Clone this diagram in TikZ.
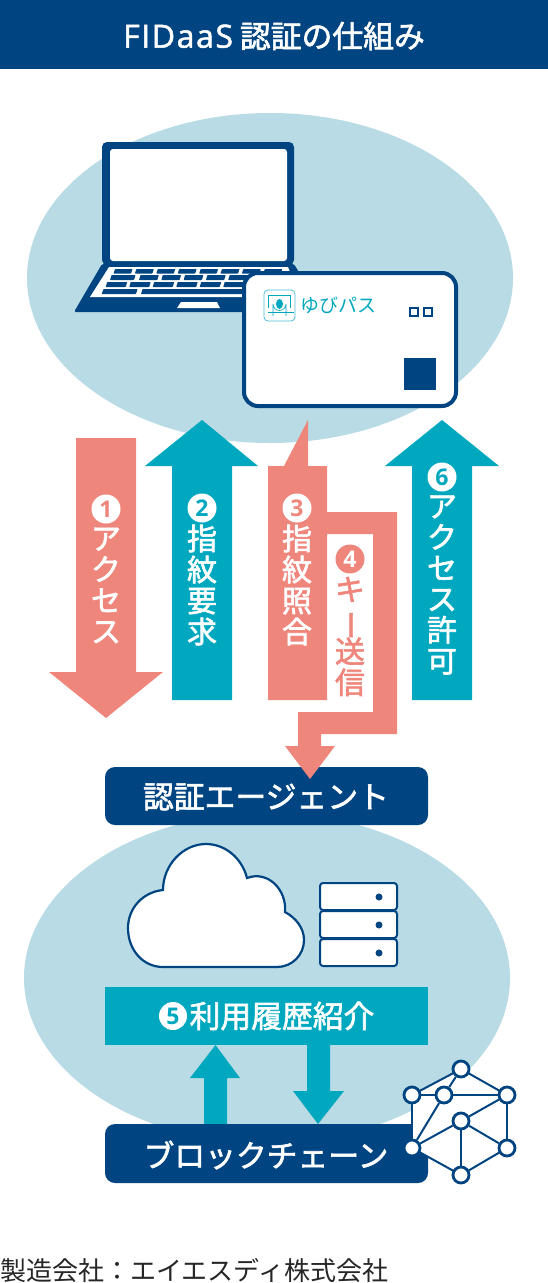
\documentclass[tikz,border=0pt]{standalone}
\usepackage{fontspec}
\setmainfont{Noto Sans CJK JP}
\newfontfamily\labelfont[FakeBold=2]{Noto Sans CJK JP}
\newfontfamily\latinfont[FakeBold=1.5, LetterSpace=5]{Open Sans}
\newfontfamily\numfont{Open Sans}
\lineskiplimit=-40pt

\definecolor{navy}{HTML}{004481}
\definecolor{tealc}{HTML}{00A8BF}
\definecolor{salmon}{HTML}{EF867C}
\definecolor{pale}{HTML}{B8DBE5}

\tikzset{
    vlabel/.style={text=white, inner sep=0pt, align=center,
        font=\labelfont\fontsize{30}{31}\selectfont},
    hlabel/.style={text=white, inner sep=0pt,
        font=\labelfont\fontsize{30.8}{36}\selectfont},
    numdot/.style={circle, fill=white, inner sep=0pt, minimum size=29pt,
        font=\numfont\bfseries\fontsize{23}{23}\selectfont},
    barbox/.style={fill=navy, rounded corners=10pt},
    netnode/.style={circle, draw=navy, fill=white, line width=2.8pt,
        inner sep=0pt, minimum size=16pt},
    netline/.style={draw=navy, line width=2pt},
    servbox/.style={draw=navy, fill=white, line width=2pt, rounded corners=3pt},
    keyc/.style={fill=navy, rounded corners=0.6pt}
}

\begin{document}
\begin{tikzpicture}[x=1pt, y=-1pt]
    \useasboundingbox (0,0) rectangle (548,1283);

    % header
    \fill[navy] (0,0) rectangle (548,69);
    \node[hlabel] (title) at (274,36) {{\latinfont\fontsize{32}{36}\selectfont FIDaaS} 認証の仕組み};

    % upper group
    \fill[pale] (270,278) ellipse [x radius=243, y radius=165];

    % laptop
    \fill[navy, rounded corners=5pt] (102,265) -- (102,142) -- (294,142) -- (294,265) -- cycle;
    \fill[white, rounded corners=3pt] (110,149) rectangle (287,261);
    \fill[navy, rounded corners=1.5pt] (102,264) -- (294,264) -- (300,274) -- (300,312) -- (74,312) -- cycle;
    \fill[white] (109,267) -- (288,267) -- (300,297) -- (90,297) -- cycle;
    \foreach \ya/\yb/\xa/\kw/\kp/\kn in {269/273.5/113.5/17.5/21.4/8, 275/280/139/18.3/22.3/5, 282/287/105.7/20/23.5/6}
        \foreach \i in {1,...,\kn}
            \fill[keyc] ({\xa+(\i-1)*\kp+1.5},\ya) -- ++(\kw,0) -- ({\xa+(\i-1)*\kp+\kw},\yb) -- ({\xa+(\i-1)*\kp},\yb) -- cycle;
    \fill[keyc] (111.5,275) -- (135.5,275) -- (134,280) -- (110,280) -- cycle;
    \fill[keyc] (103.5,289) -- (137.5,289) -- (136,294) -- (101.7,294) -- cycle;
    \fill[keyc] (142.5,289) -- (250,289) -- (250,294) -- (141,294) -- cycle;
    \fill[white] (181,302) -- (217,302) -- (220,308) -- (177,308) -- cycle;

    % card
    \draw[navy, fill=white, line width=4pt, rounded corners=14pt] (244,273) rectangle (456,406);
    \draw[navy, line width=2pt] (410,308) rectangle (418,316);
    \draw[navy, line width=2pt] (424,308) rectangle (432,316);
    \fill[navy] (404,358) rectangle (436,390);
    \draw[tealc!70, line width=0.8pt, rounded corners=4pt] (264,290) rectangle (295,321);
    \draw[tealc, line width=0.6pt] (268,308) -- (268,295) -- (290,295) -- (290,308);
    \draw[tealc, line width=0.6pt] (273,316) -- (273,304) arc[start angle=180, end angle=0, radius=6.5] -- (286,316);
    \draw[tealc, line width=0.6pt] (268,312) -- (294,312);
    \fill[tealc] (279.5,304) ellipse [x radius=3.5, y radius=5];
    \node[inner sep=0pt, text=tealc, font=\fontsize{19}{24}\selectfont] (logotext) at (338.5,305) {ゆびパス};

    % lower group
    \fill[pale] (267,978) ellipse [x radius=243, y radius=165];

    % cloud
    \draw[navy, fill=white, line width=2.2pt] (163,967)
        .. controls (143,967) and (128,950) .. (128,928)
        .. controls (128,908) and (143,892) .. (163,890)
        .. controls (163,865) and (183,844) .. (206,844)
        .. controls (225,844) and (242,858) .. (247,878)
        .. controls (268,870) and (287,890) .. (285,912)
        .. controls (296,918) and (304,928) .. (304,940)
        .. controls (304,955) and (292,967) .. (277,967) -- cycle;

    % server
    \foreach \yy in {883,911,939} {
        \draw[servbox] (320,\yy) rectangle (397,\yy+27);
        \fill[navy] (379,\yy+14) circle (3.5);
    }

    % arrows 1, 2, 6
    \fill[salmon] (76,438) -- (136,438) -- (136,672) -- (163,672) -- (106,718) -- (49,672) -- (76,672) -- cycle;
    \fill[tealc] (172,700) -- (232,700) -- (232,466) -- (258,466) -- (202,420) -- (145,466) -- (172,466) -- cycle;
    \fill[tealc] (412,700) -- (472,700) -- (472,466) -- (499,466) -- (442,420) -- (385,466) -- (412,466) -- cycle;

    % agent box
    \fill[barbox] (105,767) rectangle (428,825);
    \node[hlabel] (agent) at (266,797) {認証エージェント};

    % arrows 3, 4
    \fill[salmon] (268,700) -- (268,466) -- (284,466) -- (308,420) -- (308,466) -- (327,466) -- (327,512)
        -- (397,512) -- (397,734) -- (321,734) -- (321,746) -- (335,746) -- (310,779) -- (285,746) -- (298,746)
        -- (298,712) -- (373,712) -- (373,534) -- (327,534) -- (327,700) -- cycle;

    % arrow labels
    \node[numdot, text=salmon] (numone) at (106,509) {1};
    \node[vlabel] (access) at (106,585.5) {ア\\ク\\セ\\ス};
    \node[numdot, text=tealc] (numtwo) at (202,508) {2};
    \node[vlabel] (request) at (202,585) {指\\紋\\要\\求};
    \node[numdot, text=salmon] (numthree) at (297,508) {3};
    \node[vlabel] (verify) at (297,585) {指\\紋\\照\\合};
    \node[numdot, text=white, fill=salmon] (numfour) at (350,559) {4};
    \node[vlabel, text=salmon] (keysend) at (350,636.5) {キ\\\kern-8pt\rotatebox[origin=c]{-90}{ー}\\送\\信};
    \node[numdot, text=tealc] (numsix) at (442,477) {6};
    \node[vlabel] (allow) at (442,585) {ア\\ク\\セ\\ス\\許\\可};

    % history bar
    \fill[tealc] (105,987) rectangle (428,1045);
    \node[numdot, text=tealc, minimum size=28pt] (numfive) at (173,1016) {5};
    \node[hlabel] (history) at (282,1016) {利用履歴紹介};

    \fill[tealc] (204,1125) -- (227,1125) -- (227,1078) -- (240,1078) -- (215.5,1045) -- (190,1078) -- (204,1078) -- cycle;
    \fill[tealc] (307,1045) -- (330,1045) -- (330,1091) -- (344,1091) -- (318,1124) -- (293,1091) -- (307,1091) -- cycle;

    % chain box
    \fill[barbox] (105,1124) rectangle (428,1183);
    \node[hlabel] (chain) at (266,1155) {ブロックチェーン};

    % network
    \coordinate (na) at (461,1069);
    \coordinate (nb) at (412,1095);
    \coordinate (nd) at (507,1095);
    \coordinate (nf) at (412,1148);
    \coordinate (ng) at (507,1148);
    \coordinate (nh) at (461,1175);
    \fill[white] (na) -- (nd) -- (ng) -- (nh) -- (nf) -- (nb) -- cycle;
    \foreach \from/\to in {na/nb, na/nd, nb/nf, nd/ng, nf/nh, ng/nh}
        \draw[netline] (\from) -- (\to);
    \node[netnode] (neta) at (na) {};
    \node[netnode] (netb) at (nb) {};
    \node[netnode] (netc) at (444,1095) {};
    \node[netnode] (netd) at (nd) {};
    \node[netnode] (nete) at (461,1121) {};
    \node[netnode] (netf) at (nf) {};
    \node[netnode] (netg) at (ng) {};
    \node[netnode] (neth) at (nh) {};
    \foreach \from/\to in {neta/netc, netb/netc, netc/netd, netc/netf,
        netd/nete, nete/netf, nete/netg, nete/neth}
        \draw[netline] (\from) -- (\to);

    % footer
    \node[anchor=west, inner sep=0pt, text=black!85, font=\fontsize{26}{30}\selectfont] (maker) at (0,1270) {製造会社：エイエスディ株式会社};
\end{tikzpicture}
\end{document}
